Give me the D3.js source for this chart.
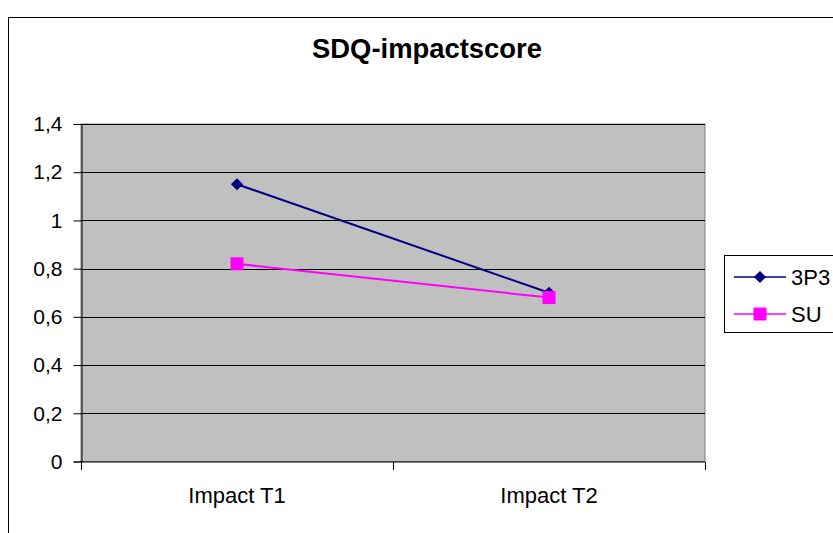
<!DOCTYPE html>
<html>
<head>
<meta charset="utf-8">
<script src="https://cdn.jsdelivr.net/npm/d3@7"></script>
<style>
  html, body { margin: 0; padding: 0; background: #fff; }
  svg { display: block; font-family: "Liberation Sans", Arial, sans-serif; }
</style>
</head>
<body>
<svg id="chart" width="833" height="533"></svg>
<script>
// Chart data
const categories = ["Impact T1", "Impact T2"];
const seriesNames = ["3P3", "SU"];
const values3P3 = [1.15, 0.70];
const valuesSU = [0.82, 0.68];
const yTicks = [0, 0.2, 0.4, 0.6, 0.8, 1, 1.2, 1.4];

const seriesList = [
  { name: seriesNames[0], values: values3P3, color: "#000080", marker: "diamond" },
  { name: seriesNames[1], values: valuesSU, color: "#FF00FF", marker: "square" }
];

const FONT = "\"Liberation Sans\", Arial, sans-serif";
const svg = d3.select("#chart");

// Outer chart frame
svg.append("rect")
  .attr("x", 8.5).attr("y", 17.5)
  .attr("width", 840).attr("height", 530)
  .attr("fill", "#fff").attr("stroke", "#000").attr("stroke-width", 1);

// Title
svg.append("text")
  .attr("x", 427).attr("y", 58)
  .attr("text-anchor", "middle")
  .attr("font-size", 28).attr("font-weight", "bold")
  .attr("textLength", 230).attr("lengthAdjust", "spacingAndGlyphs")
  .text("SDQ-impactscore");

const plot = { left: 81, right: 705, top: 124, bottom: 461.5 };

const x = d3.scaleBand()
  .domain(categories)
  .range([plot.left, plot.right])
  .paddingInner(0).paddingOuter(0);

const y = d3.scaleLinear()
  .domain([0, 1.4])
  .range([plot.bottom, plot.top]);

// Plot background
svg.append("rect")
  .attr("x", plot.left).attr("y", plot.top)
  .attr("width", plot.right - plot.left).attr("height", plot.bottom - plot.top)
  .attr("fill", "#C0C0C0").attr("stroke", "#808080").attr("stroke-width", 1);

// Horizontal gridlines
svg.append("g")
  .selectAll("line")
  .data(yTicks.filter(d => d > 0))
  .join("line")
  .attr("x1", plot.left).attr("x2", plot.right)
  .attr("y1", d => Math.round(y(d)) + 0.5).attr("y2", d => Math.round(y(d)) + 0.5)
  .attr("stroke", "#000").attr("stroke-width", 1);

// Y axis
const fmt = d => String(d).replace(".", ",");
const yAxis = svg.append("g")
  .attr("transform", `translate(${plot.left + 0.5},0)`)
  .call(d3.axisLeft(y).tickValues(yTicks).tickFormat(fmt).tickSize(8).tickPadding(11));
yAxis.attr("font-size", 21).attr("font-family", FONT);
yAxis.select(".domain").attr("stroke", "#000");
yAxis.selectAll(".tick line").attr("stroke", "#000");
yAxis.selectAll(".tick text").attr("fill", "#000");

// X axis with ticks between categories
const xAxisG = svg.append("g")
  .attr("transform", `translate(0,${plot.bottom + 0.5})`);
xAxisG.append("line")
  .attr("x1", plot.left).attr("x2", plot.right)
  .attr("stroke", "#000");
const boundaries = [plot.left, ...categories.slice(1).map(c => x(c)), plot.right];
xAxisG.selectAll("line.tk")
  .data(boundaries)
  .join("line")
  .attr("class", "tk")
  .attr("x1", d => Math.round(d) + 0.5).attr("x2", d => Math.round(d) + 0.5)
  .attr("y1", 0).attr("y2", 8)
  .attr("stroke", "#000");
xAxisG.selectAll("text")
  .data(categories)
  .join("text")
  .attr("x", d => x(d) + x.bandwidth() / 2)
  .attr("y", 40.5)
  .attr("text-anchor", "middle")
  .attr("font-size", 22)
  .text(d => d);

// Lines and markers
const line = d3.line()
  .x((d, i) => x(categories[i]) + x.bandwidth() / 2)
  .y(d => y(d));

function drawMarker(g, type, cx, cy, color) {
  if (type === "diamond") {
    g.append("path")
      .attr("d", d3.symbol().type(d3.symbolDiamond2).size(95)())
      .attr("transform", `translate(${cx},${cy})`)
      .attr("fill", color);
  } else {
    g.append("rect")
      .attr("x", cx - 6.5).attr("y", cy - 6.5)
      .attr("width", 13).attr("height", 13)
      .attr("fill", color);
  }
}

seriesList.forEach(s => {
  const g = svg.append("g");
  g.append("path")
    .datum(s.values)
    .attr("d", line)
    .attr("fill", "none")
    .attr("stroke", s.color)
    .attr("stroke-width", 2);
  s.values.forEach((v, i) => {
    drawMarker(g, s.marker, x(categories[i]) + x.bandwidth() / 2, y(v), s.color);
  });
});

// Legend
const legend = svg.append("g");
legend.append("rect")
  .attr("x", 724.5).attr("y", 255.5)
  .attr("width", 120).attr("height", 77)
  .attr("fill", "#fff").attr("stroke", "#000");
seriesList.forEach((s, i) => {
  const ly = 277 + i * 37;
  legend.append("line")
    .attr("x1", 734).attr("x2", 786)
    .attr("y1", ly).attr("y2", ly)
    .attr("stroke", s.color).attr("stroke-width", 1.5);
  drawMarker(legend, s.marker, 760, ly, s.color);
  legend.append("text")
    .attr("x", 791).attr("y", ly + 8)
    .attr("font-size", 22)
    .text(s.name);
});
</script>
</body>
</html>
